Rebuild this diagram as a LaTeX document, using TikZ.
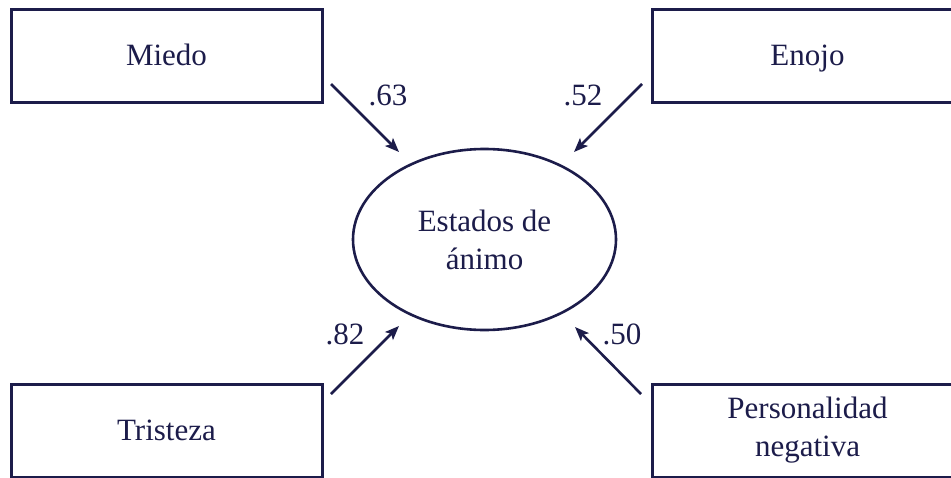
\documentclass[tikz,border=0pt]{standalone}
\usepackage{fontspec}
\setmainfont{Liberation Serif}
\usetikzlibrary{shapes.geometric,arrows.meta}
\definecolor{navy}{RGB}{28,28,74}
\tikzset{
  varbox/.style={draw=navy, line width=3pt, rectangle, minimum width=311pt, minimum height=93pt, inner sep=0pt, text=navy, font=\fontsize{31}{38}\selectfont, align=center},
  oneline/.style={text height=22pt, text depth=3pt},
  latent/.style={draw=navy, line width=2.6pt, ellipse, minimum width=263pt, minimum height=181pt, inner sep=0pt, text=navy, font=\fontsize{31}{38}\selectfont, align=center},
  path/.style={draw=navy, line width=2.6pt, -{Stealth[length=14pt,width=11pt,inset=3pt]}},
  coef/.style={text=navy, font=\fontsize{31}{38}\selectfont, inner sep=0pt}
}
\begin{document}
\begin{tikzpicture}[x=1pt,y=-1pt]
\useasboundingbox (0,0) rectangle (951,477);
\clip (0,0) rectangle (951,477);
\fill[white] (0,0) rectangle (951,477);
\node[varbox,oneline] (miedo) at (166.5,55.5) {Miedo};
\node[varbox,oneline] (enojo) at (807.5,55.5) {Enojo};
\node[varbox,oneline] (tristeza) at (166.5,430.5) {Tristeza};
\node[varbox] (personalidad) at (807.5,430.5) {Personalidad\\negativa};
\node[latent] (estados) at (484.5,239.5) {Estados de\\ánimo};
\coordinate (s1) at (331,84);
\coordinate (e1) at (399,152);
\coordinate (s2) at (642,84);
\coordinate (e2) at (574,152);
\coordinate (s3) at (331,394);
\coordinate (e3) at (399,326);
\coordinate (s4) at (641,394);
\coordinate (e4) at (575,327);
\draw[path] (s1) -- (e1);
\draw[path] (s2) -- (e2);
\draw[path] (s3) -- (e3);
\draw[path] (s4) -- (e4);
\node[coef] (c1) at (388,95) {.63};
\node[coef] (c2) at (583,95) {.52};
\node[coef] (c3) at (345,334) {.82};
\node[coef] (c4) at (622,334) {.50};
\end{tikzpicture}
\end{document}
